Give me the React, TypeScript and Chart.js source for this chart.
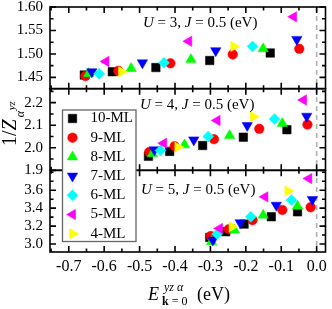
import React, { useEffect, useRef } from 'react';
import { Chart, registerables } from 'chart.js';
import { drawPoint } from 'chart.js/helpers';

Chart.register(...registerables);

const FONT = "'Liberation Serif', 'Times New Roman', serif";

// Series meta
const SERIES_LABELS = ['10-ML', '9-ML', '8-ML', '7-ML', '6-ML', '5-ML', '4-ML'];
const SERIES_COLORS = ['#000000', '#ff0000', '#00ff00', '#0000ff', '#00ffff', '#ff00ff', '#ffff00'];
const SERIES_SHAPES = ['rect', 'circle', 'triangle', 'triangle', 'rectRot', 'triangle', 'triangle'];
const SERIES_ROTATION = [0, 0, 0, 180, 0, -90, 90];
const SERIES_RADIUS = [6, 4.8, 6, 6, 5.5, 6, 6];

// U = 3, J = 0.5
const U3_ML10 = [[-0.656, 1.455], [-0.577, 1.462], [-0.454, 1.471], [-0.302, 1.486], [-0.131, 1.502]];
const U3_ML9 = [[-0.653, 1.453], [-0.56, 1.464], [-0.413, 1.48], [-0.237, 1.499], [-0.049, 1.511]];
const U3_ML8 = [[-0.644, 1.458], [-0.524, 1.469], [-0.355, 1.488], [-0.151, 1.511]];
const U3_ML7 = [[-0.635, 1.462], [-0.492, 1.481], [-0.285, 1.507], [-0.056, 1.531]];
const U3_ML6 = [[-0.614, 1.458], [-0.431, 1.481], [-0.181, 1.516]];
const U3_ML5 = [[-0.595, 1.484], [-0.361, 1.527], [-0.065, 1.579]];
const U3_ML4 = [[-0.551, 1.462], [-0.234, 1.516]];

// U = 4, J = 0.5
const U4_ML10 = [[-0.475, 1.962], [-0.415, 1.984], [-0.322, 2.01], [-0.207, 2.047], [-0.084, 2.08]];
const U4_ML9 = [[-0.473, 1.981], [-0.401, 2.007], [-0.29, 2.038], [-0.162, 2.084], [-0.026, 2.103]];
const U4_ML8 = [[-0.464, 1.974], [-0.373, 2.013], [-0.246, 2.054], [-0.097, 2.108]];
const U4_ML7 = [[-0.458, 1.991], [-0.347, 2.035], [-0.196, 2.099], [-0.028, 2.14]];
const U4_ML6 = [[-0.441, 1.988], [-0.306, 2.05], [-0.119, 2.128]];
const U4_ML5 = [[-0.432, 2.02], [-0.281, 2.121], [-0.037, 2.212]];
const U4_ML4 = [[-0.392, 2.003], [-0.179, 2.138]];

// U = 5, J = 0.5
const U5_ML10 = [[-0.302, 3.074], [-0.257, 3.137], [-0.205, 3.222], [-0.128, 3.304], [-0.054, 3.359]];
const U5_ML9 = [[-0.299, 3.089], [-0.248, 3.165], [-0.181, 3.267], [-0.097, 3.38], [-0.017, 3.41]];
const U5_ML8 = [[-0.297, 3.026], [-0.232, 3.156], [-0.151, 3.322], [-0.054, 3.42]];
const U5_ML7 = [[-0.293, 3.044], [-0.216, 3.237], [-0.114, 3.433], [-0.012, 3.497]];
const U5_ML6 = [[-0.281, 3.111], [-0.186, 3.304], [-0.071, 3.49]];
const U5_ML5 = [[-0.274, 3.174], [-0.146, 3.526], [-0.022, 3.73]];
const U5_ML4 = [[-0.239, 3.193], [-0.081, 3.592]];

// Axes
const X_MIN = -0.753;
const X_MAX = 0.025;
const X_TICKS = [-0.7, -0.6, -0.5, -0.4, -0.3, -0.2, -0.1, 0.0];
const X_MINOR = [-0.75, -0.65, -0.55, -0.45, -0.35, -0.25, -0.15, -0.05];

const Y_TOP_RANGE = [1.426, 1.6];
const Y_TOP_TICKS = [1.45, 1.5, 1.55, 1.6];
const Y_TOP_MINOR = [1.475, 1.525, 1.575];
const Y_MID_RANGE = [1.9, 2.262];
const Y_MID_TICKS = [1.9, 2.0, 2.1, 2.2];
const Y_MID_MINOR = [1.95, 2.05, 2.15, 2.25];
const Y_BOT_RANGE = [2.911, 3.822];
const Y_BOT_TICKS = [3.0, 3.2, 3.4, 3.6];
const Y_BOT_MINOR = [3.1, 3.3, 3.5, 3.7, 3.8];

const PANEL_LABELS = ['3', '4', '5'];

const PANELS = [
  { id: 'yTop', series: [U3_ML10, U3_ML9, U3_ML8, U3_ML7, U3_ML6, U3_ML5, U3_ML4], major: Y_TOP_TICKS, minor: Y_TOP_MINOR },
  { id: 'yMid', series: [U4_ML10, U4_ML9, U4_ML8, U4_ML7, U4_ML6, U4_ML5, U4_ML4], major: Y_MID_TICKS, minor: Y_MID_MINOR },
  { id: 'yBot', series: [U5_ML10, U5_ML9, U5_ML8, U5_ML7, U5_ML6, U5_ML5, U5_ML4], major: Y_BOT_TICKS, minor: Y_BOT_MINOR },
];

function yScale(range: number[], ticks: number[], decimals: number, weight: number) {
  return {
    type: 'linear',
    position: 'left',
    stack: 'panels',
    stackWeight: 1,
    weight,
    min: range[0],
    max: range[1],
    grid: { display: false, drawTicks: false },
    border: { display: false },
    ticks: {
      autoSkip: false,
      padding: 7,
      color: '#000',
      font: { family: FONT, size: 15 },
      callback: (v: any) => Number(v).toFixed(decimals),
    },
    afterBuildTicks: (s: any) => {
      s.ticks = ticks.map((v) => ({ value: v }));
    },
    afterFit: (s: any) => {
      s.width = 50;
      s.paddingTop = 0;
      s.paddingBottom = 0;
      s.paddingLeft = 0;
      s.paddingRight = 0;
    },
  };
}

function drawMixed(ctx: CanvasRenderingContext2D, parts: [string, string][], x: number, y: number) {
  let cx = x;
  for (const [txt, font] of parts) {
    ctx.font = font;
    ctx.fillText(txt, cx, y);
    cx += ctx.measureText(txt).width;
  }
  return cx;
}

const decorPlugin = {
  id: 'decor',
  beforeDatasetsDraw(chart: any) {
    const ctx = chart.ctx as CanvasRenderingContext2D;
    const xs = chart.scales.x;
    const area = chart.chartArea;
    const px0 = xs.getPixelForValue(0);
    ctx.save();
    ctx.strokeStyle = '#b0b0b0';
    ctx.lineWidth = 1.6;
    ctx.setLineDash([5, 4]);
    ctx.beginPath();
    ctx.moveTo(px0, area.top);
    ctx.lineTo(px0, area.bottom);
    ctx.stroke();
    ctx.restore();
  },
  afterDatasetsDraw(chart: any) {
    const ctx = chart.ctx as CanvasRenderingContext2D;
    const xs = chart.scales.x;
    ctx.save();
    ctx.strokeStyle = '#000';
    ctx.lineWidth = 1.6;
    const L = xs.left;
    const R = xs.right;
    for (const p of PANELS) {
      const ys = chart.scales[p.id];
      const T = ys.top;
      const B = ys.bottom;
      ctx.strokeRect(L, T, R - L, B - T);
      ctx.beginPath();
      const xt = (vals: number[], len: number) => {
        for (const v of vals) {
          const px = xs.getPixelForValue(v);
          ctx.moveTo(px, T);
          ctx.lineTo(px, T + len);
          ctx.moveTo(px, B);
          ctx.lineTo(px, B - len);
        }
      };
      const yt = (vals: number[], len: number) => {
        for (const v of vals) {
          const py = ys.getPixelForValue(v);
          ctx.moveTo(L, py);
          ctx.lineTo(L + len, py);
          ctx.moveTo(R, py);
          ctx.lineTo(R - len, py);
        }
      };
      xt(X_TICKS, 6);
      xt(X_MINOR, 3.5);
      yt(p.major, 6);
      yt(p.minor, 3.5);
      ctx.stroke();
    }
    ctx.restore();
  },
  afterDraw(chart: any) {
    const ctx = chart.ctx as CanvasRenderingContext2D;
    ctx.save();
    ctx.fillStyle = '#000';
    ctx.textBaseline = 'middle';
    ctx.textAlign = 'left';
    // panel annotations
    const annX = [143, 140, 141];
    const annY = [23, 105, 190.5];
    PANEL_LABELS.forEach((u, i) => {
      drawMixed(
        ctx,
        [
          ['U', `italic 15px ${FONT}`],
          [` = ${u}, `, `15px ${FONT}`],
          ['J', `italic 15px ${FONT}`],
          [' = 0.5 (eV)', `15px ${FONT}`],
        ],
        annX[i],
        annY[i]
      );
    });

    // legend
    const bx = 62.5, by = 110, bw = 73.5, bh = 131.5;
    ctx.fillStyle = '#fff';
    ctx.fillRect(bx, by, bw, bh);
    ctx.strokeStyle = '#666';
    ctx.lineWidth = 1.3;
    ctx.strokeRect(bx, by, bw, bh);
    SERIES_LABELS.forEach((lab, i) => {
      const cy = 118.5 + i * 19.2;
      ctx.fillStyle = SERIES_COLORS[i];
      ctx.strokeStyle = SERIES_COLORS[i];
      ctx.lineWidth = 0.5;
      drawPoint(ctx, { pointStyle: SERIES_SHAPES[i] as any, rotation: SERIES_ROTATION[i], radius: SERIES_RADIUS[i], borderWidth: 0.5 } as any, 72.5, cy);
      ctx.fillStyle = '#000';
      ctx.font = `15px ${FONT}`;
      ctx.textBaseline = 'middle';
      ctx.fillText(lab, 90.5, cy);
    });

    // x title
    ctx.fillStyle = '#000';
    ctx.textBaseline = 'alphabetic';
    ctx.font = `italic 18px ${FONT}`;
    ctx.fillText('E', 148, 300);
    ctx.font = `italic 12px ${FONT}`;
    ctx.fillText('yz α', 164, 291);
    drawMixed(ctx, [['k', `bold 12px ${FONT}`], [' = 0', `12px ${FONT}`]], 162, 305);
    ctx.font = `18px ${FONT}`;
    ctx.fillText('(eV)', 197, 300);

    // y title (rotated)
    ctx.translate(16, 146);
    ctx.rotate(-Math.PI / 2);
    let cx = drawMixed(ctx, [['1/', `20px ${FONT}`], ['Z', `italic 20px ${FONT}`]], 0, 0);
    ctx.font = `italic 12px ${FONT}`;
    ctx.fillText('α', cx + 2, 8);
    ctx.font = `italic 11px ${FONT}`;
    ctx.fillText('yz', cx + 9, -1);
    ctx.restore();
  },
};

export default function App() {
  const ref = useRef<HTMLCanvasElement>(null);
  useEffect(() => {
    if (!ref.current) return;
    const datasets: any[] = [];
    PANELS.forEach((p) => {
      p.series.forEach((pts, i) => {
        datasets.push({
          label: `${SERIES_LABELS[i]} ${p.id}`,
          data: pts.map(([x, y]) => ({ x, y })),
          yAxisID: p.id,
          xAxisID: 'x',
          order: 6 - i,
          showLine: false,
          pointStyle: SERIES_SHAPES[i],
          rotation: SERIES_ROTATION[i],
          pointRadius: SERIES_RADIUS[i],
          pointHoverRadius: SERIES_RADIUS[i],
          backgroundColor: SERIES_COLORS[i],
          borderColor: SERIES_COLORS[i],
          pointBorderWidth: 0.5,
        });
      });
    });
    const chart = new Chart(ref.current, {
      type: 'scatter',
      data: { datasets },
      options: {
        animation: false,
        responsive: false,
        devicePixelRatio: 1,
        layout: { padding: { top: 7, right: 2, left: 0, bottom: 0 } },
        plugins: { legend: { display: false }, tooltip: { enabled: false } },
        scales: {
          x: {
            type: 'linear',
            position: 'bottom',
            min: X_MIN,
            max: X_MAX,
            grid: { display: false, drawTicks: false },
            border: { display: false },
            ticks: {
              autoSkip: false,
              padding: 5,
              maxRotation: 0,
              color: '#000',
              font: { family: FONT, size: 16 },
              callback: (v: any) => Number(v).toFixed(1),
            },
            afterBuildTicks: (s: any) => {
              s.ticks = X_TICKS.map((v) => ({ value: v }));
            },
            afterFit: (s: any) => {
              s.height = 57;
              s.paddingLeft = 0;
              s.paddingRight = 0;
              s.paddingTop = 0;
              s.paddingBottom = 0;
            },
          },
          yBot: yScale(Y_BOT_RANGE, Y_BOT_TICKS, 1, 1),
          yMid: yScale(Y_MID_RANGE, Y_MID_TICKS, 1, 2),
          yTop: yScale(Y_TOP_RANGE, Y_TOP_TICKS, 2, 3),
        } as any,
      },
      plugins: [decorPlugin],
    });
    return () => chart.destroy();
  }, []);
  return (
    <div style={{ position: 'fixed', left: 0, top: 0, width: 332, height: 309, background: '#fff' }}>
      <canvas ref={ref} width={332} height={309} style={{ width: 332, height: 309 }} />
    </div>
  );
}
